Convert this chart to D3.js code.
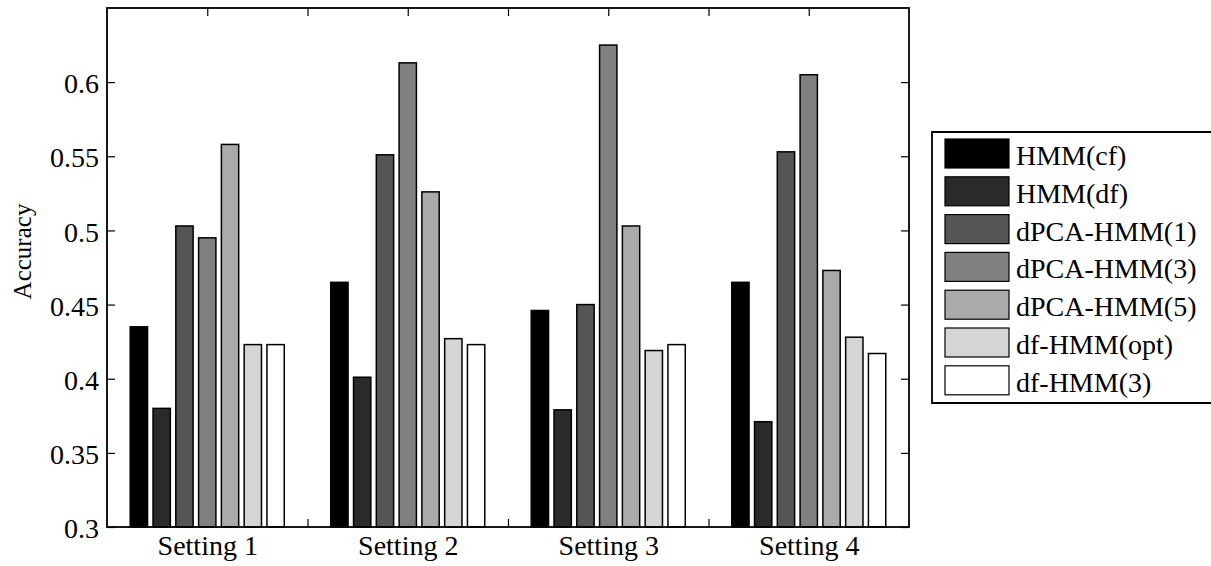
<!DOCTYPE html>
<html>
<head>
<meta charset="utf-8">
<script src="https://cdn.jsdelivr.net/npm/d3@7"></script>
<style>
  body { margin: 0; background: #fff; overflow: hidden; }
  svg { display: block; font-family: "Liberation Serif", "Times New Roman", serif; }
</style>
</head>
<body>
<div id="chart"></div>
<script>
// Chart data
const settings = ['Setting 1', 'Setting 2', 'Setting 3', 'Setting 4'];
const methods = ['HMM(cf)', 'HMM(df)', 'dPCA-HMM(1)', 'dPCA-HMM(3)', 'dPCA-HMM(5)', 'df-HMM(opt)', 'df-HMM(3)'];
const hmmCf = [0.435, 0.465, 0.446, 0.465];
const hmmDf = [0.380, 0.401, 0.379, 0.371];
const dpca1 = [0.503, 0.551, 0.450, 0.553];
const dpca3 = [0.495, 0.613, 0.625, 0.605];
const dpca5 = [0.558, 0.526, 0.503, 0.473];
const dfOpt = [0.423, 0.427, 0.419, 0.428];
const df3 = [0.423, 0.423, 0.423, 0.417];
const colors = ['#000000', '#2a2a2a', '#555555', '#808080', '#aaaaaa', '#d5d5d5', '#ffffff'];
const yTicks = [0.3, 0.35, 0.4, 0.45, 0.5, 0.55, 0.6];
const xTicks = [1, 1.5, 2, 2.5, 3, 3.5, 4];

const seriesValues = [hmmCf, hmmDf, dpca1, dpca3, dpca5, dfOpt, df3];
const serif = '"Liberation Serif", "Times New Roman", serif';

const width = 1211;
const height = 566;
const margin = { top: 8, right: 302, bottom: 39, left: 107 };
const innerWidth = width - margin.left - margin.right;
const innerHeight = height - margin.top - margin.bottom;

const svg = d3.select('#chart')
    .append('svg')
    .attr('width', width)
    .attr('height', height);

const g = svg.append('g')
    .attr('transform', `translate(${margin.left},${margin.top})`);

// Scales
const xTick = d3.scaleLinear().domain([0.5, 4.5]).range([0, innerWidth]);

const x0 = d3.scaleBand()
    .domain(settings)
    .range([0, innerWidth])
    .paddingInner(0.2)
    .paddingOuter(0.1);

const x1 = d3.scaleBand()
    .domain(methods)
    .range([0, x0.bandwidth()])
    .paddingInner(0.24)
    .paddingOuter(0.14);

const y = d3.scaleLinear().domain([0.3, 0.65]).range([innerHeight, 0]);

// Axes (ticks pointing inward, MATLAB style)
const xAxis = d3.axisBottom(xTick)
    .tickValues(xTicks)
    .tickSize(-8)
    .tickSizeOuter(0)
    .tickPadding(8)
    .tickFormat(d => Number.isInteger(d) ? settings[d - 1] : '');

const yAxis = d3.axisLeft(y)
    .tickValues(yTicks)
    .tickSize(-8)
    .tickSizeOuter(0)
    .tickPadding(8)
    .tickFormat(d => String(d));

const gx = g.append('g')
    .attr('transform', `translate(0,${innerHeight})`)
    .call(xAxis);

const gy = g.append('g').call(yAxis);

g.append('g')
    .attr('class', 'no-labels')
    .call(d3.axisTop(xTick).tickValues(xTicks).tickSize(-8).tickSizeOuter(0).tickFormat(''));

g.append('g')
    .attr('class', 'no-labels')
    .attr('transform', `translate(${innerWidth},0)`)
    .call(d3.axisRight(y).tickValues(yTicks).tickSize(-8).tickSizeOuter(0).tickFormat(''));

g.selectAll('.domain').remove();
g.selectAll('.no-labels .tick text').remove();
gx.selectAll('.tick text').filter(d => !Number.isInteger(d)).remove();
g.selectAll('.tick line').attr('stroke', '#000').attr('stroke-width', 1.2);
g.selectAll('.tick text')
    .attr('font-family', serif)
    .attr('font-size', 28)
    .attr('fill', '#000');
gy.selectAll('.tick text').attr('dy', '0.38em');

// Y label
g.append('text')
    .attr('transform', 'rotate(-90)')
    .attr('x', -(251.5 - margin.top))
    .attr('y', 31 - margin.left)
    .attr('text-anchor', 'middle')
    .attr('font-size', 25)
    .text('Accuracy');

// Bars
const groups = g.append('g')
    .selectAll('g')
    .data(settings)
    .join('g')
    .attr('transform', d => `translate(${x0(d)},0)`);

groups.selectAll('rect')
    .data((d, i) => methods.map((m, j) => ({ method: m, value: seriesValues[j][i], color: colors[j] })))
    .join('rect')
    .attr('x', d => x1(d.method))
    .attr('y', d => y(d.value))
    .attr('width', x1.bandwidth())
    .attr('height', d => innerHeight - y(d.value))
    .style('fill', d => d.color)
    .style('stroke', '#000')
    .style('stroke-width', 1.5);

// Frame
g.append('rect')
    .attr('width', innerWidth)
    .attr('height', innerHeight)
    .style('fill', 'none')
    .style('stroke', '#000')
    .style('stroke-width', 1.8);

// Legend (right border runs off the picture, as in the original)
const legendW = width - 932;
const legendH = 271;
const legend = svg.append('g')
    .attr('transform', 'translate(932,132)');

legend.append('path')
    .attr('d', `M${legendW},0H0V${legendH}H${legendW}`)
    .style('fill', '#fff')
    .style('stroke', '#000')
    .style('stroke-width', 1.8);

const rowH = 37.8;
const items = legend.selectAll('.item')
    .data(methods)
    .join('g')
    .attr('class', 'item')
    .attr('transform', (d, i) => `translate(0,${7 + i * rowH})`);

items.append('rect')
    .attr('x', 13)
    .attr('width', 64)
    .attr('height', 29)
    .style('fill', (d, i) => colors[i])
    .style('stroke', '#000')
    .style('stroke-width', 1.2);

items.append('text')
    .attr('x', 84)
    .attr('y', 26)
    .attr('font-size', 28)
    .text(d => d);
</script>
</body>
</html>
